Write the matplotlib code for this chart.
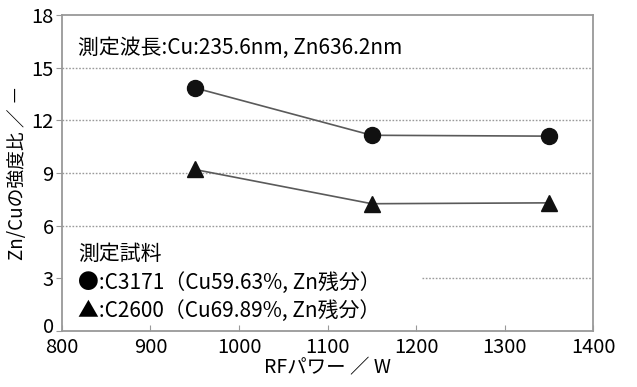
import matplotlib
matplotlib.use("Agg")
import matplotlib.pyplot as plt
import matplotlib.transforms as mtransforms

plt.rcParams['font.family'] = ['Noto Sans CJK JP', 'DejaVu Sans']

# RFパワー(W) と Zn/Cu 強度比
rf_power = [950, 1150, 1350]
c3171 = [13.85, 11.15, 11.1]
c2600 = [9.2, 7.25, 7.3]

x_ticks = [800, 900, 1000, 1100, 1200, 1300, 1400]
y_ticks = [0, 3, 6, 9, 12, 15, 18]

fig = plt.figure(figsize=(6.37, 3.87), dpi=100)
ax = fig.add_axes([0.0973, 0.1447, 0.8337, 0.8165])

# 点線のグリッド (3 は凡例の右側だけ)
for y in [6, 9, 12, 15]:
    ax.axhline(y, color='#9a9a9a', lw=1.0, ls=(0, (1.2, 1.2)), zorder=1)
ax.hlines(3, 1207, 1400, color='#9a9a9a', lw=1.0, linestyles=[(0, (1.2, 1.2))], zorder=1)

ax.plot(rf_power, c3171, color='#5a5a5a', lw=1.2, zorder=2)
ax.plot(rf_power, c2600, color='#5a5a5a', lw=1.2, zorder=2)
ax.plot(rf_power, c3171, 'o', color='#111111', ms=11.5, zorder=3)
ax.plot(rf_power, c2600, '^', color='#111111', ms=12, zorder=3)

ax.set_xlim(800, 1400)
ax.set_ylim(0, 18)
ax.set_xticks(x_ticks)
ax.set_yticks(y_ticks)
ax.tick_params(axis='x', direction='in', length=4, color='#999999', labelsize=14.5, pad=4)
ax.tick_params(axis='y', direction='out', length=4, color='#999999', labelsize=14.5, pad=2)
for s in ax.spines.values():
    s.set_color('#999999')
    s.set_linewidth(1.3)

# 0 のラベルは少し上にずらす
zero_label = ax.get_yticklabels()[0]
zero_label.set_transform(zero_label.get_transform() +
                         mtransforms.ScaledTranslation(0, 4 / 72, fig.dpi_scale_trans))

ax.set_xlabel('RFパワー ／ W', fontsize=14, labelpad=0)
ax.set_ylabel('Zn/Cuの強度比 ／ －', fontsize=13.5, labelpad=2)

ax.text(0.03, 0.895, '測定波長:Cu:235.6nm, Zn636.2nm', transform=ax.transAxes,
        fontsize=15, va='center', ha='left')
ax.text(0.03, 0.245, '測定試料', transform=ax.transAxes, fontsize=15, va='center', ha='left')
ax.text(0.03, 0.153, '●:C3171（Cu59.63%, Zn残分）', transform=ax.transAxes,
        fontsize=15, va='center', ha='left')
ax.text(0.03, 0.063, '▲:C2600（Cu69.89%, Zn残分）', transform=ax.transAxes,
        fontsize=15, va='center', ha='left')

fig.savefig('out.png', dpi=100, facecolor='white')
